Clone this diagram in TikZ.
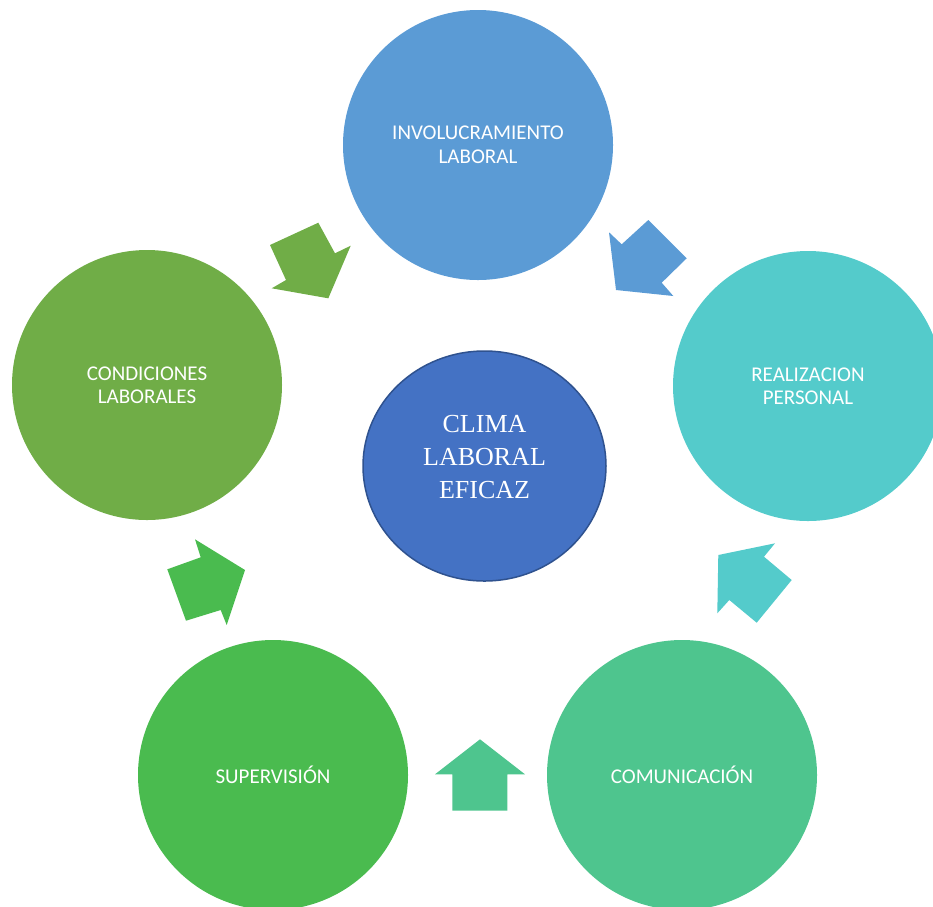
\documentclass[tikz,border=0pt]{standalone}
\usepackage{fontspec}
\setmainfont{Liberation Serif}
\newfontfamily\calibri{Carlito}
\usetikzlibrary{shapes.geometric}
\definecolor{cinv}{HTML}{5B9BD5}
\definecolor{creal}{HTML}{54CBCB}
\definecolor{ccom}{HTML}{4EC58E}
\definecolor{csup}{HTML}{4ABB4F}
\definecolor{ccond}{HTML}{70AD47}
\definecolor{cclima}{HTML}{4472C4}
\definecolor{bclima}{HTML}{2F528F}
\tikzset{
  etapa/.style={circle, minimum size=270pt, inner sep=0pt, align=center,
    text=white, font=\calibri\fontsize{21}{23.5}\selectfont},
}
\begin{document}
\begin{tikzpicture}[x=1pt,y=-1pt]
  \useasboundingbox (0,0) rectangle (933,906);

  \foreach \cx/\cy/\col/\name/\txt in {
    478/145/cinv/inv/{INVOLUCRAMIENTO\\LABORAL},
    808/386/creal/real/{REALIZACION\\PERSONAL},
    682/775/ccom/com/{COMUNICACIÓN},
    273/775/csup/sup/{SUPERVISIÓN},
    147/385/ccond/cond/{CONDICIONES\\LABORALES}}
  {
    \node [etapa, fill=\col] (\name) at (\cx,\cy) {\txt};
  }

  \node [ellipse, draw=bclima, fill=cclima, line width=1.5pt,
    minimum width=243pt, minimum height=230pt] (clima) at (484.5,466) {};
  \node [align=center, text=white, font=\fontsize{26}{33}\selectfont]
    (climatxt) at (484.5,457) {CLIMA\\LABORAL\\EFICAZ};

  \fill [ccond] (270,245) -- (318.3,222.7) -- (335,253.3) -- (350.7,245.7)
    -- (328.3,298.3) -- (271.7,288.3) -- (286,280) -- cycle;
  \fill [cinv] (609,232.3) -- (621.7,244.3) -- (648.3,220) -- (686.7,258.3)
    -- (661.7,282.7) -- (673.3,296) -- (616,290) -- cycle;
  \fill [creal] (718.3,555) -- (775,543.3) -- (764,556.7) -- (791.7,580)
    -- (756.7,622.7) -- (729.3,600) -- (717.3,613.3) -- cycle;
  \fill [ccom] (480,739.3) -- (525,774.3) -- (507.3,774.3) -- (507.3,810.7)
    -- (452.3,810.7) -- (452.3,774.3) -- (435,774.3) -- cycle;
  \fill [csup] (195,539.3) -- (245,570) -- (226.7,625) -- (220.7,610)
    -- (186,620.7) -- (167.3,569.3) -- (200.7,557.3) -- cycle;

\end{tikzpicture}
\end{document}
